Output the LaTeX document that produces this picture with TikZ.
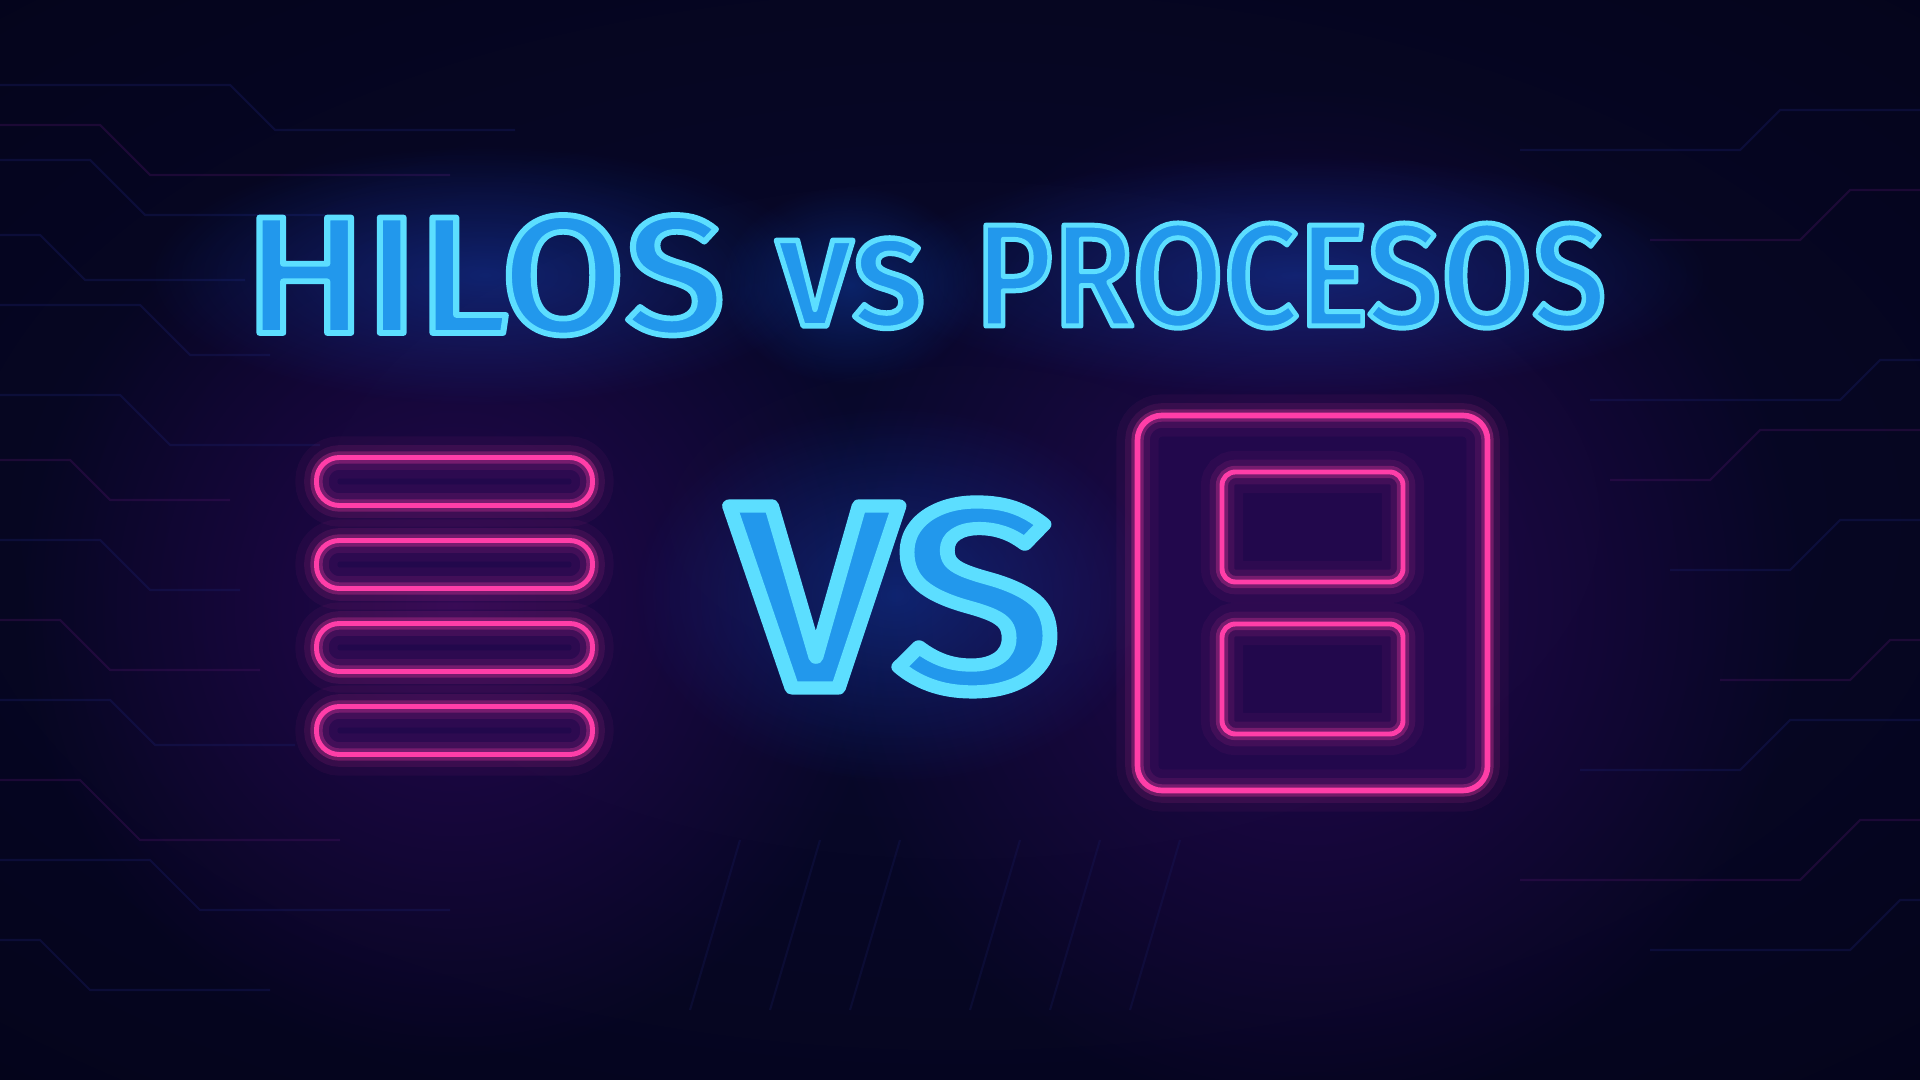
\documentclass[tikz,border=0pt]{standalone}
\usepackage{fontspec}
\usepackage{graphicx}
\setmainfont{Fira Sans}
\newfontfamily\neonfont{Fira Sans Medium}
\usetikzlibrary{positioning,fadings}

\definecolor{night}{RGB}{4,4,24}
\definecolor{navy}{RGB}{10,10,52}
\definecolor{plum}{RGB}{46,8,92}
\definecolor{glowblue}{RGB}{20,100,255}
\definecolor{neonfill}{RGB}{34,152,236}
\definecolor{neonpink}{RGB}{255,62,168}
\definecolor{tubefill}{RGB}{34,8,76}
\definecolor{trace}{RGB}{26,30,104}
\definecolor{tracepink}{RGB}{72,18,96}

\tikzfading[name=haze, inner color=transparent!0, outer color=transparent!100]

% text outline: fill in blue, stroke in cyan
\newcommand\tubestroke[1]{\special{pdf:literal direct 1 j 2 Tr #1 w 0.36 0.87 1 RG}}

% neon word: [outline]{name}{base west}{width}{height}{text}
\newcommand\neonword[6][0.34]{%
  \node[neon] (#2) at (#3) {\tubestroke{#1}\resizebox{#4}{#5}{#6}};
}

\tikzset{
  neon/.style={inner sep=0, outer sep=0, anchor=base west, text=neonfill, font=\neonfont},
  tube/.style={draw=neonpink, line width=1.4pt, inner sep=0, outer sep=0,
    preaction={fill=tubefill},
    preaction={draw=neonpink, line width=12pt, draw opacity=0.05},
    preaction={draw=neonpink, line width=7pt, draw opacity=0.10},
    preaction={draw=neonpink, line width=3.5pt, draw opacity=0.28}},
  pill/.style={tube, rounded corners=6.5pt, minimum width=2.76cm, minimum height=0.48cm},
  proc/.style={tube, line width=1.6pt, rounded corners=7pt, minimum width=3.5cm, minimum height=3.75cm},
  slot/.style={tube, rounded corners=3.8pt, minimum width=1.81cm, minimum height=1.1cm},
  trace/.style={draw=trace, line width=0.6pt, opacity=0.35},
  halo/.style={glowblue, path fading=haze, opacity=0.3},
}

\begin{document}
\begin{tikzpicture}
  % Background
  \fill[night] (0,0) rectangle (19.2,10.8);
  \useasboundingbox (0,0) rectangle (19.2,10.8);
  \fill[navy, path fading=haze, opacity=0.8] (9.6,5.6) ellipse (17 and 9);
  \fill[plum, path fading=haze, opacity=0.75] (4.55,4.75) ellipse (4.4 and 4.6);
  \fill[plum, path fading=haze, opacity=0.75] (13.1,4.8) ellipse (5 and 5.2);

  % Circuit traces
  \foreach \y/\a/\d/\b in {9.95/2.3/0.45/2.4, 9.2/0.9/0.55/1.8, 8.45/0.4/0.45/1.6,
      7.75/1.4/0.5/0.8, 6.85/1.2/0.5/1.5, 5.4/1.0/0.5/0.9, 3.8/1.1/0.45/1.4,
      2.2/1.5/0.5/2.5, 1.4/0.4/0.5/1.8}
    \draw[trace] (0,\y) -- (\a,\y) -- ++(\d,-\d) -- ++(\b,0);
  \foreach \y/\a/\d/\b in {9.55/1.0/0.5/3.0, 6.2/0.7/0.4/1.2, 4.6/0.6/0.5/1.5, 3.0/0.8/0.6/2.0}
    \draw[trace, draw=tracepink] (0,\y) -- (\a,\y) -- ++(\d,-\d) -- ++(\b,0);
  \foreach \y/\a/\d/\b in {9.7/17.8/0.4/2.2, 7.2/18.8/0.4/2.5, 5.6/18.4/0.5/1.2,
      3.6/17.9/0.5/1.6, 1.8/19.0/0.5/2.0}
    \draw[trace] (19.2,\y) -- (\a,\y) -- ++(-\d,-\d) -- ++(-\b,0);
  \foreach \y/\a/\d/\b in {8.9/18.5/0.5/1.5, 6.5/17.6/0.5/1.0, 4.4/18.9/0.4/1.3, 2.6/18.6/0.6/2.8}
    \draw[trace, draw=tracepink] (19.2,\y) -- (\a,\y) -- ++(-\d,-\d) -- ++(-\b,0);
  \foreach \x in {7.4, 8.2, 9.0, 10.2, 11.0, 11.8}
    \draw[trace, opacity=0.25] (\x,2.4) -- ++(-0.5,-1.7);

  % Glow behind the words
  \fill[halo] (4.85,8.05) ellipse (3.4 and 1.3);
  \fill[halo] (8.5,7.95) ellipse (1.3 and 1.0);
  \fill[halo] (12.95,8.05) ellipse (4.2 and 1.2);
  \fill[halo, opacity=0.3] (8.95,4.85) ellipse (2.6 and 1.9);

  % Title
  \neonword{hilos}{2.45,7.47}{4.8cm}{1.18cm}{HILOS}
  \neonword{vs}{7.76,7.54}{1.49cm}{0.88cm}{vs}
  \neonword{procesos}{9.75,7.54}{6.31cm}{1.03cm}{PROCESOS}

  % Threads
  \node[pill] (t1) at (4.545,5.985) {};
  \node[pill, below=0.35cm of t1] (t2) {};
  \node[pill, below=0.35cm of t2] (t3) {};
  \node[pill, below=0.35cm of t3] (t4) {};

  % Versus
  \neonword[0.5]{versus}{7.31,3.92}{3.28cm}{1.86cm}{VS}

  % Process
  \node[proc] (proc) at (13.125,4.77) {};
  \node[slot, above=0.21cm of proc.center] (slot1) {};
  \node[slot, below=0.21cm of proc.center] (slot2) {};
\end{tikzpicture}
\end{document}
